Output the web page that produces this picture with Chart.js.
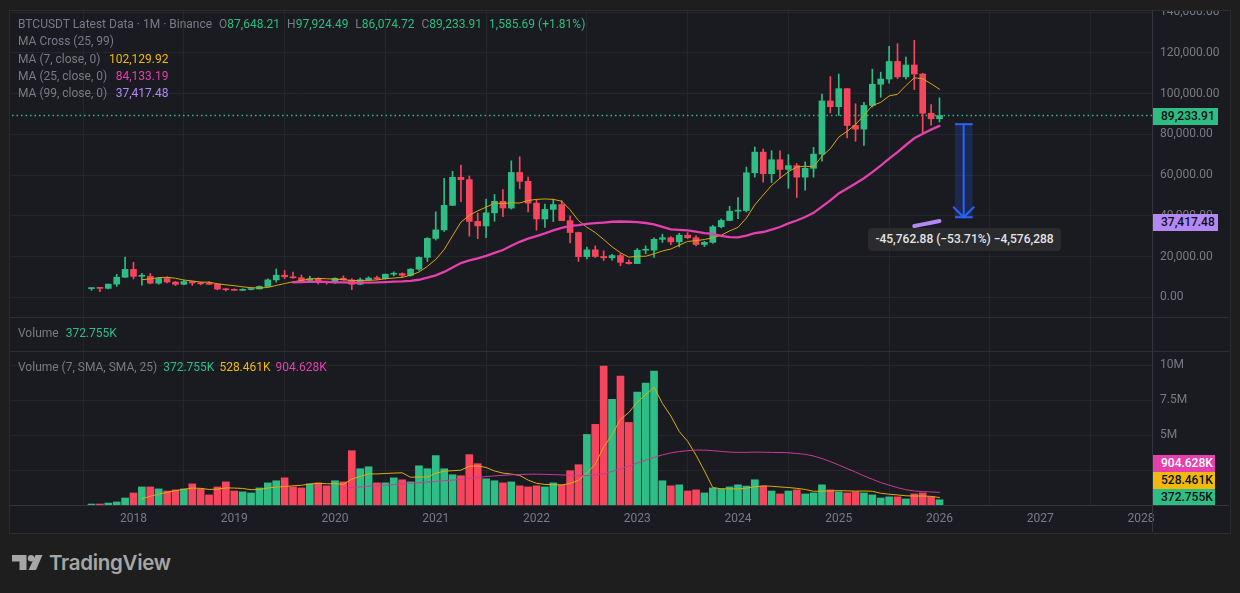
<!DOCTYPE html>
<html>
<head>
<meta charset="utf-8">
<title>BTCUSDT Latest Data</title>
<script src="https://cdn.jsdelivr.net/npm/chart.js@4"></script>
<style>
  html, body { margin: 0; padding: 0; background: #1e1e1e; width: 1240px; height: 593px; overflow: hidden; font-family: Roboto, sans-serif; }
  #panel { position: absolute; left: 9px; top: 10px; width: 1220px; height: 522px; background: #191b20; border: 1px solid #2b2b2d; box-sizing: content-box; }
  canvas { position: absolute; left: 0; top: 0; clip-path: inset(11px 11px 61px 10px); }
  .line { position: absolute; background: #2c2e34; }
  .legend { position: absolute; left: 18px; font-size: 12px; line-height: 16px; color: #787b86; white-space: nowrap; }
  .legend span { margin-left: 4px; }
  .legend span.tight { margin-left: 0; }
  .legend span.val { margin-left: 8.5px; }
  .legend span.vol { margin-left: 5px; }
  .tag { position: absolute; left: 1153px; font-size: 12px; font-weight: 500; text-align: left; padding-left: 8px; box-sizing: border-box; white-space: nowrap; }
  #measure { position: absolute; left: 868px; top: 228px; width: 193px; height: 23px; line-height: 23px; border-radius: 4px; background: #2b2b2e; color: #e4e5e8; font-size: 12px; font-weight: 500; text-align: center; }
  #logo { position: absolute; left: 12px; top: 555px; }
  #brand { position: absolute; left: 49px; top: 549px; font-family: Inter, sans-serif; font-size: 20.5px; font-weight: 600; line-height: 28px; color: #a6a6a6; letter-spacing: -0.3px; }
</style>
</head>
<body>
<div id="panel"></div>
<canvas id="btcChart" width="1240" height="593"></canvas>

<div class="line" style="left:10px;top:317px;width:1219px;height:1px"></div>
<div class="line" style="left:10px;top:351px;width:1219px;height:1px"></div>
<div class="line" style="left:10px;top:505px;width:1219px;height:1px;background:#34363d"></div>
<div class="line" style="left:1152px;top:11px;width:1px;height:521px;background:#34363d"></div>

<div class="legend" style="top:16px"><span class="tight">BTCUSDT Latest Data · 1M · Binance</span>
  <span>O<b style="font-weight:400;color:#2ebd85">87,648.21</b></span>
  <span>H<b style="font-weight:400;color:#2ebd85">97,924.49</b></span>
  <span>L<b style="font-weight:400;color:#2ebd85">86,074.72</b></span>
  <span>C<b style="font-weight:400;color:#2ebd85">89,233.91</b></span>
  <span style="color:#2ebd85">1,585.69 (+1.81%)</span></div>
<div class="legend" style="top:33px">MA Cross (25, 99)</div>
<div class="legend" style="top:51px">MA (7, close, 0)<span class="val" style="color:#f0b90b">102,129.92</span></div>
<div class="legend" style="top:68px">MA (25, close, 0)<span class="val" style="color:#e63fae">84,133.19</span></div>
<div class="legend" style="top:85px">MA (99, close, 0)<span class="val" style="color:#b388f5">37,417.48</span></div>
<div class="legend" style="top:325px">Volume<span class="vol" style="margin-left:7px;color:#2ebd85">372.755K</span></div>
<div class="legend" style="top:359px">Volume (7, SMA, SMA, 25)<span class="vol" style="margin-left:6px;color:#2ebd85">372.755K</span><span class="vol" style="color:#f0b90b">528.461K</span><span class="vol" style="color:#e63fae">904.628K</span></div>

<div class="tag" style="top:108px;height:17px;line-height:17px;width:65px;background:#2ebd85;color:#0b0e11">89,233.91</div>
<div class="tag" style="top:214px;height:17px;line-height:17px;width:65px;background:#b388f5;color:#0b0e11">37,417.48</div>
<div class="tag" style="top:455px;height:17px;line-height:17px;width:62px;background:#e63fae;color:#fff">904.628K</div>
<div class="tag" style="top:472px;height:17px;line-height:17px;width:62px;background:#f0b90b;color:#0b0e11">528.461K</div>
<div class="tag" style="top:489px;height:16px;line-height:16px;width:62px;background:#2ebd85;color:#0b0e11">372.755K</div>

<div id="measure">-45,762.88 (−53.71%) −4,576,288</div>

<svg id="logo" width="31" height="16" viewBox="0 0 31 16" fill="#a6a6a6">
  <polygon points="0,0 14.5,0 14.5,15 7.5,15 7.5,6.5 0,6.5"/>
  <circle cx="19" cy="3.2" r="3.2"/>
  <polygon points="23.5,0 30.5,0 24,15 16.5,15"/>
</svg>
<div id="brand">TradingView</div>

<script>
// monthly candles, Aug 2017 to Jan 2026
const opens = [4261,4689,4378,6463,9837,13716,10285,10326,6923,9246,7485,6391,7727,7012,6626,6371,4041,3702,3434,3814,4103,5321,8555,10855,10085,9588,8290,9140,7541,7195,9352,8523,6412,8620,9448,9138,11335,11649,10776,13791,19608,28923,33092,45135,58918,57750,37254,35045,41462,47101,43824,61299,56951,46217,38467,43160,45510,37631,31801,19942,23296,20048,19422,20491,17165,16541,23125,23142,28465,29233,27210,30471,29232,25941,26963,34639,37723,42284,42580,61131,71280,60672,67540,62772,64628,58973,63328,70292,96408,93576,102429,84350,82550,94172,104591,107146,115764,108246,114048,109608,90360,87648];
const highs = [4745,4939,6470,11300,19798,17176,11786,11700,9759,10020,7786,8491,7769,7410,7680,6555,4312,4140,4198,4140,5600,9074,13970,13147,12325,10905,10370,9500,7750,9575,10500,9188,9460,10067,10380,11444,12486,12067,14100,19863,29300,41950,58352,61844,64854,59500,41330,48168,50500,52920,67000,69000,59053,47990,45821,48190,47444,40023,31986,24668,25214,22799,21085,21446,18387,23960,25250,29184,31000,29820,31431,31804,30244,27488,35280,38450,44700,48969,63913,73777,72797,71980,71950,70080,65660,66498,73620,99800,108353,109588,102500,95000,95758,111980,110530,123218,124474,117900,126200,110000,94590,97924];
const lows = [3400,2817,4110,5325,9722,9035,6000,6600,6430,7036,5750,6070,5880,6100,6200,3652,3156,3349,3373,3670,4050,5350,7440,9111,9320,7710,7300,6515,6427,6850,8445,3782,6150,8117,8833,8893,10518,9825,10374,13195,17572,28130,32296,45000,46930,30000,28805,29278,37332,39600,43283,53256,41967,32918,34322,37156,37578,26700,17622,18782,19520,18125,18190,15476,16256,16500,21351,19549,26942,25811,24800,28861,25166,24900,26538,34097,37615,38555,41884,59005,56552,56382,58402,53485,49000,52550,58946,66835,90500,89256,78258,76606,74508,93377,98200,105100,107350,107250,102000,80600,84450,86074];
const closes = [4724,4378,6463,9838,13716,10285,10326,6923,9246,7485,6391,7727,7012,6626,6371,4041,3702,3434,3814,4103,5321,8555,10855,10085,9588,8290,9140,7541,7195,9352,8523,6410,8620,9448,9138,11335,11649,10776,13791,19608,28923,33092,45135,58918,57750,37254,35045,41462,47101,43824,61299,56951,46217,38467,43160,45510,37631,31801,19942,23293,20050,19422,20491,17164,16542,23125,23142,28465,29233,27210,30472,29232,25941,26963,34639,37723,42284,42580,61131,71280,60672,67540,62772,64628,58973,63328,70292,96408,93576,102429,84350,82550,94172,104591,107146,115764,108246,114048,109608,90360,87648,89234];
// volume in millions
const volumes = [0.07,0.07,0.14,0.22,0.5,0.86,1.29,1.29,1.15,1.0,1.08,1.15,1.51,1.15,0.72,1.29,1.65,1.0,0.94,0.86,1.22,1.58,1.73,1.94,1.29,1.22,1.51,1.58,1.37,1.73,1.65,3.88,2.59,2.73,1.58,1.58,1.94,1.8,1.65,2.8,2.59,3.53,2.59,2.16,2.09,3.6,2.95,1.87,1.73,1.58,1.65,1.37,1.29,1.37,1.29,1.58,1.44,2.45,2.88,5.04,5.76,9.93,7.55,9.21,5.9,8.06,8.71,9.57,1.73,1.37,1.44,1.0,1.08,0.86,1.22,1.15,1.29,1.44,1.35,1.8,1.34,1.0,0.79,1.0,1.08,0.79,0.86,1.44,1.08,0.94,0.86,0.94,0.86,0.72,0.5,0.58,0.58,0.43,0.79,0.86,0.58,0.373];

// moving averages, each starts later than the candles
const ma7Start = 6;
const ma7 = [8676,8990,9685,9831,9339,8483,8016,7487,7408,6665,6124,5702,5143,4727,4541,4853,5826,6738,7617,8257,8976,9293,9099,8884,8661,8207,8254,8298,8527,9118,9446,9768,10822,12392,15174,18596,23425,30178,36888,40240,42445,44237,46238,46051,46391,46277,47557,48046,48288,48061,47176,42962,37675,34401,31770,28378,24804,21880,19701,20155,20134,21336,22737,23697,25598,27411,27814,28359,29241,30454,32608,34337,38894,45371,50187,54887,58466,61658,64000,64313,64172,69277,72997,78662,81479,84848,89254,94154,95688,98857,99688,103931,107796,107252,104831,102130];
const ma25Start = 24;
const ma25 = [7280,7423,7613,7657,7551,7376,7306,7149,7217,7225,7291,7489,7646,7796,8083,8613,9608,10783,12451,14656,16802,18079,19138,20363,21843,23213,25333,27246,28793,30044,31396,32875,34124,35051,35471,36037,36386,36697,37085,37220,37098,36866,36468,35801,34614,33392,33121,32888,32267,31462,31094,30151,29565,29419,30326,31451,32057,33253,34492,36280,37707,39438,41473,44510,47566,51002,53451,55827,58455,61469,64667,68079,71239,74763,78069,80298,82295,84133];
const ma99Start = 98;
const ma99 = [35000,35800,36580,37417];
const volMa7Start = 6;
const volMa7 = [0.45,0.62,0.78,0.9,1.02,1.12,1.21,1.19,1.11,1.13,1.22,1.21,1.18,1.09,1.1,1.22,1.28,1.32,1.37,1.41,1.5,1.55,1.52,1.52,1.48,1.85,2.04,2.22,2.22,2.25,2.28,2.3,1.98,2.01,1.99,2.27,2.41,2.45,2.49,2.77,2.79,2.68,2.43,2.28,2.21,2.11,1.78,1.55,1.47,1.45,1.43,1.54,1.76,2.29,2.92,4.15,5.01,6.12,6.61,7.35,7.87,8.42,7.25,6.36,5.25,4.55,3.56,2.44,1.24,1.16,1.15,1.15,1.2,1.3,1.37,1.34,1.29,1.25,1.19,1.11,0.98,0.99,1.01,1.03,1.01,0.99,1.0,0.98,0.84,0.77,0.72,0.66,0.64,0.64,0.62,0.53];
const volMa25Start = 30;
const volMa25 = [1.2,1.24,1.29,1.34,1.38,1.42,1.46,1.51,1.55,1.59,1.64,1.68,1.73,1.78,1.84,1.9,1.97,2.03,2.08,2.12,2.16,2.18,2.2,2.2,2.19,2.17,2.15,2.12,2.1,2.1,2.15,2.22,2.4,2.58,2.78,3.0,3.2,3.4,3.58,3.72,3.82,3.88,3.92,3.92,3.88,3.83,3.78,3.76,3.76,3.78,3.77,3.76,3.75,3.73,3.68,3.62,3.5,3.32,3.1,2.86,2.6,2.35,2.08,1.84,1.6,1.42,1.24,1.09,1.0,0.96,0.93,0.905];

// axis labels
const yearLabels = ['2018','2019','2020','2021','2022','2023','2024','2025','2026','2027','2028'];
const yearTicks = [5,17,29,41,53,65,77,89,101,113,125];
const priceTicks = [0,20000,40000,60000,80000,100000,120000,140000];
const volumeTicks = [2.5,5,7.5,10];
const volumeTickLabels = ['','5M','7.5M','10M'];

// drawn measure tool
const lastClose = 89233.91;
const arrowX = 103.88;
const arrowCapX = [102.85,104.95];
const arrowHeadX = [102.63,103.88,105.13];
const arrowHeadY = [44470,39300,44470];
const arrowTop = 85000;
const arrowBottom = 39300;

const UP = '#2ebd85';
const DOWN = '#f6465d';
const candleColors = closes.map((c, i) => c >= opens[i] ? UP : DOWN);
const series = (arr, start) => arr.map((v, i) => ({ x: start + i, y: v }));
const lineSet = (data, color, width, yAxisID, extra) => Object.assign({
    type: 'line', data: data, borderColor: color, borderWidth: width, yAxisID: yAxisID,
    pointRadius: 0, tension: 0, order: 1, borderCapStyle: 'round'
}, extra || {});

const ctx = document.getElementById('btcChart').getContext('2d');
const btcChart = new Chart(ctx, {
    type: 'bar',
    data: {
        datasets: [
            lineSet([{ x: -10, y: lastClose }, { x: 127, y: lastClose }], UP, 1.5, 'price', { borderDash: [1.5, 3], order: 6, borderCapStyle: 'butt' }),
            { type: 'bar', label: 'Wick', data: highs.map((h, i) => ({ x: i, y: [lows[i], h] })), backgroundColor: candleColors, barThickness: 1, grouped: false, yAxisID: 'price', order: 5 },
            { type: 'bar', label: 'Candle', data: opens.map((o, i) => ({ x: i, y: [o, closes[i]] })), backgroundColor: candleColors, barThickness: 6, minBarLength: 1, grouped: false, yAxisID: 'price', order: 4 },
            { type: 'bar', label: 'Volume', data: volumes.map((v, i) => ({ x: i, y: v })), backgroundColor: candleColors, barThickness: 7, grouped: false, yAxisID: 'volume', order: 4 },
            { type: 'bar', label: 'Measure', data: [{ x: arrowX, y: [arrowBottom, arrowTop] }], backgroundColor: 'rgba(41,98,255,0.2)', barThickness: 17, grouped: false, yAxisID: 'price', order: 3 },
            lineSet(series(ma25, ma25Start), '#e63fae', 2.3, 'price'),
            lineSet(series(ma7, ma7Start), '#d9a70c', 1, 'price'),
            lineSet(series(ma99, ma99Start), '#b388f5', 4, 'price'),
            lineSet(series(volMa25, volMa25Start), '#c93a9b', 1, 'volume'),
            lineSet(series(volMa7, volMa7Start), '#e0ad0b', 1, 'volume'),
            lineSet([{ x: arrowX, y: arrowTop }, { x: arrowX, y: arrowBottom }], '#2962ff', 2, 'price', { borderCapStyle: 'butt' }),
            lineSet(arrowCapX.map(x => ({ x: x, y: arrowTop })), '#2962ff', 2, 'price', { borderCapStyle: 'butt' }),
            lineSet(arrowCapX.map(x => ({ x: x, y: arrowBottom })), '#2962ff', 2, 'price', { borderCapStyle: 'butt' }),
            lineSet(arrowHeadX.map((x, i) => ({ x: x, y: arrowHeadY[i] })), '#2962ff', 2, 'price', { borderCapStyle: 'butt' })
        ]
    },
    options: {
        responsive: false,
        animation: false,
        layout: { padding: { left: 11, top: 10, right: 11, bottom: 61 } },
        plugins: { legend: { display: false }, tooltip: { enabled: false } },
        scales: {
            x: {
                type: 'linear',
                min: -9.59,
                max: 126.31,
                offset: false,
                afterFit: scale => { scale.height = 27; scale.paddingLeft = 0; scale.paddingRight = 0; },
                afterBuildTicks: scale => { scale.ticks = yearTicks.map(v => ({ value: v })); },
                grid: { color: '#24262c', drawTicks: false },
                border: { display: false },
                ticks: {
                    autoSkip: false,
                    maxRotation: 0,
                    padding: 7,
                    color: '#787b86',
                    font: { family: 'Roboto', size: 12 },
                    callback: value => yearLabels[yearTicks.indexOf(value)]
                }
            },
            price: {
                type: 'linear',
                position: 'right',
                stack: 'panes',
                stackWeight: 341,
                min: -26362,
                max: 141040,
                afterFit: scale => { scale.width = 77; scale.paddingTop = 0; scale.paddingBottom = 0; },
                afterBuildTicks: scale => { scale.ticks = priceTicks.map(v => ({ value: v })); },
                grid: { color: '#24262c', drawTicks: false },
                border: { display: false },
                ticks: {
                    padding: 8,
                    color: '#787b86',
                    font: { family: 'Roboto', size: 12 },
                    callback: value => value.toLocaleString('en-US', { minimumFractionDigits: 2 })
                }
            },
            volume: {
                type: 'linear',
                position: 'right',
                stack: 'panes',
                stackWeight: 154,
                min: 0,
                max: 11,
                afterFit: scale => { scale.width = 77; scale.paddingTop = 0; scale.paddingBottom = 0; },
                afterBuildTicks: scale => { scale.ticks = volumeTicks.map(v => ({ value: v })); },
                grid: { color: '#24262c', drawTicks: false },
                border: { display: false },
                ticks: {
                    padding: 8,
                    color: '#787b86',
                    font: { family: 'Roboto', size: 12 },
                    callback: value => volumeTickLabels[volumeTicks.indexOf(value)]
                }
            }
        }
    }
});
</script>
</body>
</html>
